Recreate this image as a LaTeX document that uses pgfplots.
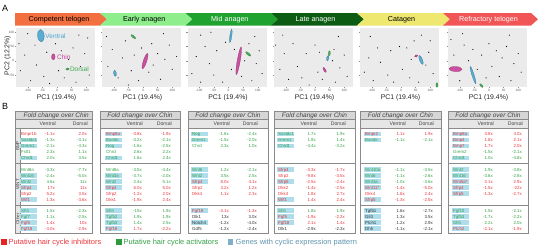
\documentclass[border=0pt]{standalone}
\usepackage{pgfplots}
\pgfplotsset{compat=1.18}
\usepackage{fontspec}
\setmainfont{Liberation Sans}
\definecolor{bgg}{HTML}{EBEBEB}
\definecolor{cV}{HTML}{4BA6CF}
\definecolor{cC}{HTML}{C8409A}
\definecolor{cD}{HTML}{3DAA4D}
\definecolor{tred}{HTML}{E8363C}
\definecolor{tgreen}{HTML}{35A046}
\definecolor{tblk}{HTML}{333333}
\definecolor{hbox}{HTML}{AEDDEC}
\definecolor{lred}{HTML}{E52421}
\definecolor{lgreen}{HTML}{2A9D3A}
\definecolor{lblue}{HTML}{7FB0C8}
\definecolor{lbluet}{HTML}{5F93AE}
\definecolor{hA}{HTML}{F2703F}
\definecolor{hB}{HTML}{8FEE8C}
\definecolor{hC}{HTML}{1FA22F}
\definecolor{hD}{HTML}{0C5C14}
\definecolor{hE}{HTML}{EEE871}
\definecolor{hF}{HTML}{F25555}
\definecolor{h1}{HTML}{D6D6D6}
\definecolor{h2}{HTML}{E6E6E6}
\definecolor{tl}{HTML}{8A8A8A}
\definecolor{hdt}{HTML}{444444}
\newcommand{\tf}{\fontsize{4.4}{5}\selectfont}
\newcommand{\hf}{\fontsize{7.2}{8}\selectfont}
\newcommand{\lf}{\fontsize{7.5}{8}\selectfont}
\newcommand{\af}{\fontsize{6.9}{8}\selectfont}
\newcommand{\chev}[6]{%
  \fill[#3] (#1,-13) -- (#2,-13) -- ({#2+7},-19.25) -- (#2,-25.5) -- (#1,-25.5) -- ({#1+#6},-19.25) -- cycle;
  \node[text=#4, font=\hf, inner sep=0pt] at ({(#1+#2)/2+1.5},-19.4) {#5};}
\newcommand{\R}[5]{%
  \node[anchor=base west,text=#5,inner sep=0pt,font=\tf] at (\gx,{-#1-1.6}) {#2};
  \node[anchor=base east,text=#5,inner sep=0pt,font=\tf] at (\vx,{-#1-1.6}) {#3};
  \node[anchor=base east,text=#5,inner sep=0pt,font=\tf] at (\dx,{-#1-1.6}) {#4};}
\newcommand{\RB}[5]{\fill[hbox] ({\gx-0.8},{-#1-2.3}) rectangle ({\gx+16.2},{-#1+2.3}); \R{#1}{#2}{#3}{#4}{#5}}
\newcommand{\tframe}[3]{% left, right, header-left
  \fill[h1] (#1,-111.5) rectangle (#2,-119.5);
  \fill[h2] (#1,-119.5) rectangle (#2,-128.5);
  \draw[tl, line width=0.6bp] (#1,-111.5) rectangle (#2,-233);
  \draw[tl, line width=0.5bp] (#1,-119.5) -- (#2,-119.5);
  \draw[tl, line width=0.6bp] (#1,-128.5) -- (#2,-128.5);
  \draw[tl, line width=0.9bp] (#1,-163.5) -- (#2,-163.5);
  \draw[tl, line width=0.9bp] (#1,-205) -- (#2,-205);
  \node[font=\fontsize{6.5}{7}\selectfont\itshape, text=hdt, inner sep=0pt] at ({(#3+#2)/2},-115.6) {Fold change over Chin};
  \node[anchor=base east, font=\fontsize{5.2}{6}\selectfont, text=hdt, inner sep=0pt] at ({\vx+1},-125.9) {Ventral};
  \node[anchor=base east, font=\fontsize{5.2}{6}\selectfont, text=hdt, inner sep=0pt] at ({\dx+1},-125.9) {Dorsal};}
\newcommand{\el}[6]{\addplot[only marks, mark=*, mark size=#4bp, mark options={fill=#6, draw=#6!70!black, line width=0.25bp, fill opacity=0.9, rotate=#5, xscale=#3/#4}] coordinates {(#1,#2)};}
\newcommand{\gp}[1]{\addplot[only marks, mark=*, mark size=0.3bp, mark options={draw=none, fill=black!25}] coordinates {#1};}
\pgfplotsset{pca/.style={scale only axis, width=79bp, height=59bp, anchor=north west,
  xmin=-140, xmax=130, ymin=-92, ymax=115,
  axis background/.style={fill=bgg}, axis line style={draw=none},
  xtick={-100,-50,0,50,100}, xticklabels={-100,-50,0,50,100},
  ytick={-50,0,50,100}, yticklabels={,,,},
  tick align=outside, tick pos=left, major tick length=1.2bp,
  tick style={draw=black!45, line width=0.3bp},
  tick label style={font=\fontsize{3.2}{3.6}\selectfont, text=black!65, inner sep=0.5bp}}}
\begin{document}
\begin{tikzpicture}
\begin{scope}[x=1bp,y=1bp]
\useasboundingbox (0,0) rectangle (538,-249);
\node[font=\fontsize{9}{10}\selectfont, inner sep=0pt] at (5,-8.5) {A};
\node[font=\fontsize{9}{10}\selectfont, inner sep=0pt] at (5,-106.5) {B};
% stage header
\chev{15}{100}{hA}{black}{Competent telogen}{0}
\chev{100}{185.5}{hB}{black}{Early anagen}{7}
\chev{185.5}{271}{hC}{white}{Mid anagen}{7}
\chev{271}{357}{hD}{white}{Late anagen}{7}
\chev{357}{443}{hE}{black}{Catagen}{7}
\chev{443}{531}{hF}{white}{Refractory telogen}{7}
% axis titles
\foreach \px in {16,102,187.5,274,360,448}{
  \node[font=\af, text=black!85, inner sep=0pt] at ({\px+40.5},-97.3) {PC1 (19.4\%)};}
\node[font=\af, text=black!85, inner sep=0pt, rotate=90] at (7.5,-55.5) {PC2 (12.2\%)};
% ===== Tables =====
% T1
\def\gx{21}\def\vx{55}\def\dx{87}
\tframe{15}{92}{20.5}
\fill[h2] (15,-128.5) rectangle (20.5,-233);
\draw[tl, line width=0.6bp] (15,-111.5) rectangle (92,-233);
\draw[tl, line width=0.5bp] (20.5,-128.5) -- (20.5,-233);
\draw[tl, line width=0.9bp] (15,-163.5) -- (92,-163.5);
\draw[tl, line width=0.9bp] (15,-205) -- (92,-205);
\node[rotate=90, font=\fontsize{4.6}{5}\selectfont, text=hdt, inner sep=0pt] at (17.8,-146) {BMP};
\node[rotate=90, font=\fontsize{4.6}{5}\selectfont, text=hdt, inner sep=0pt] at (17.8,-184.3) {WNT};
\node[rotate=90, font=\fontsize{4.6}{5}\selectfont, text=hdt, inner sep=0pt] at (17.8,-219) {Other};
\R{134}{Bmpr1b}{-1.1x}{2.0x}{tred}
\RB{140}{Sostdc1}{-1.3x}{-3.1x}{tgreen}
\RB{146}{Grem1}{-2.1x}{-4.3x}{tgreen}
\R{152}{Fstl1}{2.3x}{1.1x}{tgreen}
\RB{158}{Chrd1}{2.0x}{3.5x}{tgreen}
\R{169.5}{Wnt8a}{-3.3x}{-7.7x}{tgreen}
\RB{175.5}{Wnt16}{-2.4x}{-5.0x}{tgreen}
\RB{181.5}{Wnt2}{4.6x}{11x}{tgreen}
\RB{187.5}{Sfrp4}{17x}{11x}{tred}
\R{193.5}{Sfrp2}{5.2x}{3.5x}{tred}
\RB{199.5}{Wif1}{1.3x}{-3.6x}{tred}
\RB{210.5}{Shh}{1.5x}{-2.3x}{tgreen}
\RB{216.5}{Fgf7}{1.1x}{-2.5x}{tgreen}
\RB{222.5}{Fgf5}{1.4x}{10x}{tred}
\RB{228.5}{Fgf18}{-3.0x}{-2.9x}{tred}
% T2
\def\gx{106}\def\vx{142}\def\dx{171}
\tframe{100}{180}{100}
\RB{134}{Bmp8a}{-3.8x}{-1.9x}{tred}
\RB{140}{Bambi}{-3.2x}{-2.1x}{tgreen}
\RB{146}{Nog}{-1.6x}{-2.5x}{tgreen}
\R{152}{Chrd}{2.6x}{2.2x}{tgreen}
\RB{158}{Chrd1}{1.6x}{2.4x}{tgreen}
\R{169.5}{Wnt8a}{-3.5x}{-4.4x}{tgreen}
\RB{175.5}{Wnt3a}{-3.7x}{-2.0x}{tgreen}
\RB{181.5}{Wnt2}{2.4x}{5.1x}{tgreen}
\RB{187.5}{Sfrp4}{6.0x}{5.0x}{tred}
\R{193.5}{Sfrp2}{-1.2x}{2.0x}{tred}
\R{199.5}{Dkk1}{-1.9x}{2.4x}{tred}
\RB{210.5}{Shh}{-15x}{1.9x}{tgreen}
\RB{216.5}{Tgfb2}{1.9x}{1.9x}{tgreen}
\RB{222.5}{Tgfb3}{1.4x}{2.5x}{tgreen}
\RB{228.5}{Fgf18}{1.7x}{-2.2x}{tred}
% T3
\def\gx{192}\def\vx{229}\def\dx{257}
\tframe{188}{268}{188}
\RB{134}{Nog}{-1.6x}{-2.4x}{tgreen}
\RB{140}{Grem1}{-1.5x}{-2.0x}{tgreen}
\R{146}{Chrd}{2.3x}{1.0x}{tgreen}
\RB{169.5}{Wnt6}{1.2x}{-2.1x}{tgreen}
\RB{175.5}{Wnt2}{3.5x}{2.5x}{tgreen}
\RB{181.5}{Sfrp4}{8.0x}{4.1x}{tred}
\R{187.5}{Sfrp2}{3.2x}{1.2x}{tred}
\R{193.5}{Dkk4}{1.1x}{2.3x}{tred}
\RB{210.5}{Fgf18}{-3.1x}{-1.3x}{tred}
\R{216.5}{Dlk1}{13x}{3.0x}{tblk}
\RB{222.5}{Notch4}{-1.2x}{-4.0x}{tblk}
\R{228.5}{Gdf5}{-1.2x}{-2.4x}{tblk}
% T4
\def\gx{278}\def\vx{316}\def\dx{345}
\tframe{274}{355}{274}
\RB{134}{Sostdc1}{1.7x}{1.9x}{tgreen}
\RB{140}{Grem1}{1.9x}{1.4x}{tgreen}
\RB{146}{Chrd1}{-4.4x}{-3.2x}{tgreen}
\RB{169.5}{Sfrp4}{-3.3x}{-1.7x}{tred}
\R{175.5}{Sfrp2}{-9.8x}{-3.5x}{tred}
\RB{181.5}{Sfrp5}{-2.5x}{-2.4x}{tred}
\R{187.5}{Dkk2}{-1.4x}{-2.5x}{tred}
\R{193.5}{Dkk4}{1.8x}{2.7x}{tred}
\RB{199.5}{Wif1}{1.4x}{2.4x}{tred}
\RB{210.5}{Shh}{1.8x}{1.9x}{tgreen}
\RB{216.5}{Fgf5}{-1.9x}{-2.2x}{tred}
\RB{222.5}{Fgf18}{2.1x}{1.4x}{tred}
\R{228.5}{Dlk1}{-2.9x}{-2.3x}{tblk}
% T5
\def\gx{365}\def\vx{405}\def\dx{433}
\tframe{360}{441}{360}
\RB{134}{Bmpr2}{1.1x}{1.9x}{tred}
\RB{140}{Bambi}{-1.1x}{-2.1x}{tgreen}
\RB{169.5}{Wnt10a}{-1.1x}{-3.5x}{tgreen}
\RB{175.5}{Wnt6}{-1.1x}{-2.6x}{tgreen}
\RB{181.5}{Wnt3a}{-1.0x}{-3.6x}{tgreen}
\RB{187.5}{Wnt11*}{-1.4x}{-5.0x}{tred}
\R{193.5}{Dkk4}{1.6x}{2.4x}{tred}
\RB{199.5}{Sfrp5}{-1.3x}{-2.5x}{tred}
\RB{210.5}{Tgfb1}{1.6x}{-2.7x}{tblk}
\RB{216.5}{Gli3}{1.3x}{3.5x}{tblk}
\RB{222.5}{Ptch1}{1.2x}{2.9x}{tblk}
\RB{228.5}{Dhh}{-1.1x}{-2.1x}{tblk}
% T6
\def\gx{453}\def\vx{493}\def\dx{522}
\tframe{448}{528}{448}
\RB{134}{Bmp8a}{3.8x}{4.0x}{tred}
\RB{140}{Bmp4}{1.8x}{2.1x}{tred}
\RB{146}{Bmp7}{1.7x}{2.0x}{tred}
\R{152}{Grem2}{-1.5x}{-2.1x}{tgreen}
\RB{158}{Chrd1}{1.0x}{-4.8x}{tgreen}
\RB{169.5}{Wnt2}{1.9x}{-3.8x}{tgreen}
\RB{175.5}{Wnt16}{-3.6x}{-2.8x}{tgreen}
\RB{181.5}{Wnt5a*}{2.1x}{2.9x}{tred}
\RB{187.5}{Sfrp4}{-1.5x}{-22x}{tred}
\RB{193.5}{Sfrp5}{-1.3x}{-2.7x}{tred}
\RB{210.5}{Fgf10}{1.5x}{-2.1x}{tgreen}
\RB{216.5}{Tgfb3}{-1.7x}{-2.2x}{tgreen}
\RB{222.5}{Shh}{2.2x}{2.0x}{tgreen}
\RB{228.5}{Ptch2}{-2.1x}{-1.9x}{tred}
% legend
\fill[lred] (1,-239.3) rectangle (6.5,-244.8);
\node[anchor=west, text=tred, font=\lf, inner sep=0pt] at (8.5,-242.1) {Putative hair cycle inhibitors};
\fill[lgreen] (116,-239.3) rectangle (121.5,-244.8);
\node[anchor=west, text=tgreen, font=\lf, inner sep=0pt] at (123.5,-242.1) {Putative hair cycle activators};
\fill[lblue] (227.5,-239.3) rectangle (233,-244.8);
\node[anchor=west, text=lbluet, font=\lf, inner sep=0pt] at (235.5,-242.1) {Genes with cyclic expression pattern};
\end{scope}
% PCA panels
\begin{axis}[pca, at={(16bp,-28bp)}, yticklabels={-50,0,50,100}]
\gp{(-125,-35)(-110,20)(-90,-70)(-75,55)(-70,-15)(-45,-55)(-35,30)(-25,-80)(-5,60)(5,-35)(15,35)(25,-60)(40,5)(55,45)(65,-75)(80,-20)(95,25)(110,-50)(-100,95)(75,90)(105,80)(-130,60)}
\el{-55}{88}{6.2}{3.3}{95}{cV}
\el{-12.5}{14}{3}{1.8}{90}{cC}
\el{36}{-29}{1.8}{1.1}{15}{cD}
\node[anchor=west, text=cV, font=\fontsize{6.5}{7}\selectfont, inner sep=0pt] at (axis cs:-40,88) {Ventral};
\node[anchor=west, text=cC, font=\fontsize{6.5}{7}\selectfont, inner sep=0pt] at (axis cs:0,14) {Chin};
\node[anchor=west, text=cD, font=\fontsize{6.5}{7}\selectfont, inner sep=0pt] at (axis cs:44,-29) {Dorsal};
\end{axis}
\begin{axis}[pca, at={(102bp,-28bp)}]
\gp{(-120,-20)(-105,40)(-85,-60)(-70,10)(-60,70)(-40,-35)(-30,20)(-15,-70)(-5,45)(20,-40)(30,60)(35,-15)(50,25)(60,-65)(75,5)(90,55)(100,-30)(115,15)(-125,85)(70,95)(-50,-85)}
\el{-33}{84.5}{3}{1}{-40}{cD}
\el{7}{-1}{8}{1.7}{72}{cC}
\el{-95.6}{-44}{3}{1.4}{100}{cV}
\end{axis}
\begin{axis}[pca, at={(187.5bp,-28bp)}]
\gp{(-125,-45)(-110,15)(-95,-75)(-80,50)(-65,-10)(-50,-50)(-40,35)(-20,-75)(-10,65)(10,-30)(20,40)(45,-55)(55,0)(70,60)(80,-70)(95,-10)(105,35)(115,-45)(-95,90)(90,85)(-60,100)}
\el{8}{87}{6.8}{1}{82}{cV}
\el{35}{0}{14}{1.5}{80}{cC}
\el{67.5}{24}{3.3}{1}{-40}{cD}
\end{axis}
\begin{axis}[pca, at={(274bp,-28bp)}]
\gp{(-120,-30)(-105,25)(-90,-65)(-75,60)(-60,-20)(-45,-60)(-30,25)(-20,-85)(0,55)(10,-40)(15,30)(25,-65)(60,0)(65,40)(70,-75)(85,-25)(100,20)(110,-55)(-110,90)(80,85)(-135,55)}
\el{49}{26}{2.5}{1}{85}{cD}
\el{43.5}{9}{2.6}{1.1}{80}{cV}
\el{33}{-32}{2.8}{1}{-60}{cC}
\end{axis}
\begin{axis}[pca, at={(360bp,-28bp)}]
\gp{(-125,-40)(-110,10)(-95,-70)(-80,45)(-70,-5)(-45,-50)(-35,35)(-25,-75)(-5,50)(5,-30)(20,45)(30,-60)(35,5)(45,70)(60,-75)(85,-15)(95,30)(110,-45)(-105,85)(70,90)(100,70)}
\el{52}{17}{1.8}{1.1}{30}{cC}
\el{68.5}{3}{4.8}{1.5}{-68}{cV}
\el{123}{-85}{2.3}{1}{90}{cD}
\end{axis}
\begin{axis}[pca, at={(448bp,-28bp)}]
\gp{(-120,20)(-100,-70)(-85,55)(-70,0)(-55,40)(-40,-30)(-25,20)(-10,-60)(0,60)(10,-20)(25,35)(35,-55)(45,10)(60,50)(75,-70)(85,-10)(100,25)(110,-40)(-90,95)(70,90)(-130,75)}
\el{-114}{-29}{6.5}{2.5}{-3}{cC}
\el{-54.6}{-50}{9}{1.1}{-72}{cV}
\el{-26}{-87}{2.3}{0.9}{-50}{cD}
\end{axis}
\end{tikzpicture}
\end{document}
